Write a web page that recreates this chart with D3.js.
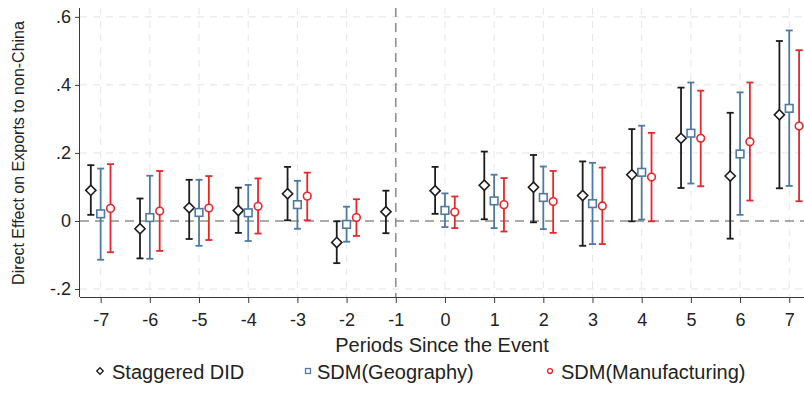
<!DOCTYPE html>
<html>
<head>
<meta charset="utf-8">
<script src="https://cdn.jsdelivr.net/npm/d3@7"></script>
<style>
  html, body { margin: 0; padding: 0; background: #fff; }
  svg { display: block; font-family: "Liberation Sans", Arial, sans-serif; }
</style>
</head>
<body>
<svg id="chart" width="804" height="394"></svg>
<script>
// Event-study estimates: point estimate, lower and upper bound of the CI
const periods = [-7, -6, -5, -4, -3, -2, -1, 0, 1, 2, 3, 4, 5, 6, 7];

const didEst = [0.090, -0.023, 0.039, 0.031, 0.080, -0.063, 0.027, 0.089, 0.105, 0.099, 0.075, 0.136, 0.243, 0.132, 0.312];
const didLo  = [0.018, -0.110, -0.053, -0.035, 0.002, -0.124, -0.036, 0.021, 0.005, -0.004, -0.073, -0.001, 0.097, -0.052, 0.096];
const didHi  = [0.164, 0.066, 0.121, 0.098, 0.159, -0.001, 0.089, 0.159, 0.204, 0.194, 0.175, 0.270, 0.392, 0.318, 0.529];

const geoEst = [0.021, 0.010, 0.025, 0.024, 0.048, -0.010, null, 0.031, 0.059, 0.069, 0.051, 0.143, 0.258, 0.197, 0.331];
const geoLo  = [-0.114, -0.111, -0.073, -0.059, -0.023, -0.061, null, -0.018, -0.021, -0.024, -0.068, 0.004, 0.110, 0.018, 0.103];
const geoHi  = [0.154, 0.133, 0.121, 0.106, 0.118, 0.042, null, 0.081, 0.136, 0.160, 0.171, 0.280, 0.407, 0.378, 0.560];

const mfgEst = [0.037, 0.029, 0.038, 0.043, 0.073, 0.010, null, 0.026, 0.048, 0.057, 0.044, 0.129, 0.243, 0.233, 0.279];
const mfgLo  = [-0.092, -0.088, -0.056, -0.037, 0.002, -0.044, null, -0.021, -0.031, -0.035, -0.068, -0.001, 0.102, 0.060, 0.058];
const mfgHi  = [0.167, 0.147, 0.132, 0.125, 0.142, 0.064, null, 0.072, 0.126, 0.147, 0.157, 0.259, 0.383, 0.407, 0.502];

const yTicks = [-0.2, 0, 0.2, 0.4, 0.6];
const yTickLabels = ["-.2", "0", ".2", ".4", ".6"];

const seriesNames = ["Staggered DID", "SDM(Geography)", "SDM(Manufacturing)"];

const series = [
  { name: seriesNames[0], est: didEst, lo: didLo, hi: didHi, color: "#1c1c1c", symbol: "diamond", shift: -0.2 },
  { name: seriesNames[1], est: geoEst, lo: geoLo, hi: geoHi, color: "#4f79a0", symbol: "square",  shift: 0 },
  { name: seriesNames[2], est: mfgEst, lo: mfgLo, hi: mfgHi, color: "#e8262c", symbol: "circle",  shift: 0.2 }
];

const svg = d3.select("#chart");
const plot = { left: 80, right: 804, top: 8, bottom: 297 };

const x = d3.scaleLinear().domain([-7.42, 7.3]).range([plot.left, plot.right]);
const y = d3.scaleLinear().domain([-0.2235, 0.626]).range([plot.bottom, plot.top]);

// light dashed grid
const grid = svg.append("g");
grid.selectAll("line.hg")
  .data(yTicks.filter(v => v !== 0))
  .join("line")
  .attr("x1", plot.left).attr("x2", plot.right)
  .attr("y1", d => y(d)).attr("y2", d => y(d))
  .attr("stroke", "#e3e3e3").attr("stroke-width", 1)
  .attr("stroke-dasharray", "7,6");
grid.selectAll("line.vg")
  .data(periods.filter(p => p !== -1))
  .join("line")
  .attr("x1", d => x(d)).attr("x2", d => x(d))
  .attr("y1", plot.top).attr("y2", plot.bottom)
  .attr("stroke", "#e6e6e6").attr("stroke-width", 1)
  .attr("stroke-dasharray", "7,6");

// reference lines: zero effect and the event period
svg.append("line")
  .attr("x1", plot.left).attr("x2", plot.right)
  .attr("y1", y(0)).attr("y2", y(0))
  .attr("stroke", "#8f8f8f").attr("stroke-width", 1.6)
  .attr("stroke-dasharray", "9,6");
svg.append("line")
  .attr("x1", x(-1)).attr("x2", x(-1))
  .attr("y1", plot.top).attr("y2", plot.bottom)
  .attr("stroke", "#8f8f8f").attr("stroke-width", 1.6)
  .attr("stroke-dasharray", "9,6");

// axes
const xAxis = d3.axisBottom(x).tickValues(periods).tickSize(6).tickPadding(10)
  .tickFormat(d3.format("d"));
const gx = svg.append("g").attr("transform", `translate(0,${plot.bottom})`).call(xAxis);
gx.select(".domain").attr("d", `M${plot.left},0.5H${plot.right}`).attr("stroke", "#3a3a3a");
gx.selectAll(".tick line").attr("stroke", "#3a3a3a");
gx.selectAll(".tick text").attr("font-size", 18).attr("fill", "#222")
  .attr("font-family", "Liberation Sans, Arial, sans-serif")
  .text(d => d < 0 ? "-" + Math.abs(d) : String(d));

const yAxis = d3.axisLeft(y).tickValues(yTicks).tickSize(5).tickPadding(4)
  .tickFormat((d, i) => yTickLabels[i]);
const gy = svg.append("g").attr("transform", `translate(${plot.left},0)`).call(yAxis);
gy.select(".domain").attr("d", `M-0.5,${plot.bottom}V${plot.top}`).attr("stroke", "#3a3a3a");
gy.selectAll(".tick line").attr("stroke", "#3a3a3a");
gy.selectAll(".tick text").attr("font-size", 18).attr("fill", "#222")
  .attr("font-family", "Liberation Sans, Arial, sans-serif");

// axis titles
svg.append("text")
  .attr("x", 442).attr("y", 352)
  .attr("text-anchor", "middle").attr("font-size", 20).attr("fill", "#222")
  .text("Periods Since the Event");
svg.append("text")
  .attr("transform", "translate(24,153) rotate(-90)")
  .attr("text-anchor", "middle").attr("font-size", 16).attr("fill", "#222")
  .text("Direct Effect on Exports to non-China");

// marker drawing helper
function drawMarker(g, sym, cx, cy, size, color, sw) {
  if (sym === "diamond") {
    const r = size * 0.6;
    g.append("path")
      .attr("d", `M${cx},${cy - r}L${cx + r},${cy}L${cx},${cy + r}L${cx - r},${cy}Z`)
      .attr("fill", "#fff").attr("stroke", color).attr("stroke-width", sw);
  } else if (sym === "square") {
    const h = size * 0.45;
    g.append("rect")
      .attr("x", cx - h).attr("y", cy - h).attr("width", 2 * h).attr("height", 2 * h)
      .attr("fill", "#fff").attr("stroke", color).attr("stroke-width", sw);
  } else {
    g.append("circle")
      .attr("cx", cx).attr("cy", cy).attr("r", size * 0.45)
      .attr("fill", "#fff").attr("stroke", color).attr("stroke-width", sw);
  }
}

// confidence intervals and point estimates
const capHalf = 3.5;
series.forEach(s => {
  const g = svg.append("g");
  periods.forEach((p, i) => {
    if (s.est[i] == null) return;
    const cx = x(p + s.shift);
    g.append("line")
      .attr("x1", cx).attr("x2", cx)
      .attr("y1", y(s.lo[i])).attr("y2", y(s.hi[i]))
      .attr("stroke", s.color).attr("stroke-width", 1.8);
    [s.lo[i], s.hi[i]].forEach(v => {
      g.append("line")
        .attr("x1", cx - capHalf).attr("x2", cx + capHalf)
        .attr("y1", y(v)).attr("y2", y(v))
        .attr("stroke", s.color).attr("stroke-width", 1.8);
    });
    drawMarker(g, s.symbol, cx, y(s.est[i]), 8.5, s.color, 1.6);
  });
});

// legend
const legendPos = [{ mx: 100, tx: 112 }, { mx: 308, tx: 317 }, { mx: 550, tx: 561 }];
series.forEach((s, i) => {
  const g = svg.append("g");
  drawMarker(g, s.symbol, legendPos[i].mx, 371, 5.5, s.color, 1.3);
  g.append("text")
    .attr("x", legendPos[i].tx).attr("y", 379)
    .attr("font-size", 20).attr("fill", "#222")
    .text(s.name);
});
</script>
</body>
</html>
